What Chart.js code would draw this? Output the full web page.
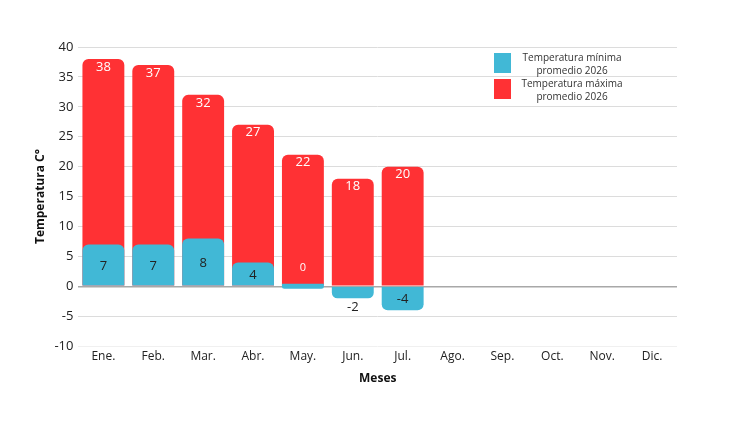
<!DOCTYPE html>
<html>
<head>
<meta charset="utf-8">
<script src="https://cdn.jsdelivr.net/npm/chart.js@4/dist/chart.umd.min.js"></script>
<style>
  html, body { margin: 0; padding: 0; background: #fff; }
  #wrap { width: 750px; height: 422px; }
</style>
</head>
<body>
<div id="wrap"><canvas id="chart"></canvas></div>
<script>
// Temperaturas promedio 2026 por mes (mínima delante, máxima detrás).
const months   = ["Ene.", "Feb.", "Mar.", "Abr.", "May.", "Jun.", "Jul.", "Ago.", "Sep.", "Oct.", "Nov.", "Dic."];
const minTemps = [7, 7, 8, 4, 0, -2, -4, null, null, null, null, null];
const maxTemps = [38, 37, 32, 27, 22, 18, 20, null, null, null, null, null];
const minLabel = ["Temperatura mínima", "promedio 2026"];
const maxLabel = ["Temperatura máxima", "promedio 2026"];

const BLUE = "#41b8d6";
const RED  = "#ff3134";
const FONT = "'Open Sans', sans-serif";

// value labels drawn on each bar
const barLabels = {
  id: "barLabels",
  afterDatasetsDraw(chart) {
    const ctx = chart.ctx;
    ctx.save();
    ctx.textAlign = "center";
    ctx.textBaseline = "middle";
    chart.data.datasets.forEach((ds, di) => {
      const meta = chart.getDatasetMeta(di);
      meta.data.forEach((bar, i) => {
        const v = ds.data[i];
        if (v === null || v === undefined) return;
        const p = bar.getProps(["x", "y", "base"], true);
        const h = Math.abs(p.base - p.y);
        if (di === 1) {
          ctx.font = "13px " + FONT;
          ctx.fillStyle = "#fff";
          ctx.fillText(String(v), p.x, Math.min(p.y, p.base) + 8);
          return;
        }
        if (h >= 16) {
          ctx.font = "13px " + FONT;
          ctx.fillStyle = "#222";
          ctx.fillText(String(v), p.x, (p.y + p.base) / 2 + 1);
        } else if (v >= 0) {
          ctx.font = "11px " + FONT;
          ctx.fillStyle = "#fff";
          ctx.fillText(String(v), p.x, p.base - 16);
        } else {
          ctx.font = "13px " + FONT;
          ctx.fillStyle = "#222";
          ctx.fillText(String(v), p.x, Math.max(p.y, p.base) + 9);
        }
      });
    });
    ctx.restore();
  }
};

// legend drawn over the top right of the plot area
const boxLegend = {
  id: "boxLegend",
  afterDraw(chart) {
    const ctx = chart.ctx;
    const area = chart.chartArea;
    const items = [[BLUE, minLabel], [RED, maxLabel]];
    ctx.save();
    ctx.font = "10px " + FONT;
    ctx.textAlign = "center";
    ctx.textBaseline = "middle";
    items.forEach((it, k) => {
      const top = area.top + 6 + k * 26;
      ctx.fillStyle = it[0];
      ctx.fillRect(area.right - 183, top, 17, 20);
      ctx.fillStyle = "#333";
      it[1].forEach((line, j) => {
        ctx.fillText(line, area.right - 105, top + 5 + j * 13);
      });
    });
    ctx.restore();
  }
};

new Chart(document.getElementById("chart"), {
  type: "bar",
  data: {
    labels: months,
    datasets: [
      {
        label: minLabel.join(" "),
        data: minTemps,
        backgroundColor: BLUE,
        borderRadius: 6,
        borderSkipped: "start",
        minBarLength: 5,
        grouped: false,
        barPercentage: 0.84,
        categoryPercentage: 1.0,
      },
      {
        label: maxLabel.join(" "),
        data: maxTemps,
        backgroundColor: RED,
        borderRadius: 6,
        borderSkipped: "start",
        grouped: false,
        barPercentage: 0.84,
        categoryPercentage: 1.0,
      },
    ],
  },
  options: {
    responsive: true,
    maintainAspectRatio: false,
    animation: false,
    layout: { padding: { top: 47, right: 73, bottom: 36, left: 33 } },
    plugins: {
      legend: { display: false },
      tooltip: { enabled: false },
    },
    scales: {
      x: {
        grid: { display: false, drawTicks: false },
        border: { display: false },
        ticks: { color: "#222", font: { family: FONT, size: 12 }, padding: 3 },
        title: {
          display: true, text: "Meses", color: "#111",
          font: { family: FONT, size: 12, weight: "bold" }, padding: { top: 5, bottom: 0 },
        },
      },
      y: {
        min: -10,
        max: 40,
        ticks: { stepSize: 5, color: "#222", font: { family: FONT, size: 13 }, padding: 5 },
        border: { display: false },
        grid: {
          drawTicks: false,
          color: ctx => ctx.tick.value === 0 ? "#a8a8a8" : (ctx.tick.value === -10 ? "#f0f0f0" : "#dcdcdc"),
          lineWidth: ctx => ctx.tick.value === 0 ? 1.5 : 1,
        },
        title: {
          display: true, text: "Temperatura C°", color: "#111",
          font: { family: FONT, size: 12, weight: "bold" }, padding: { top: 0, bottom: 2 },
        },
      },
    },
  },
  plugins: [barLabels, boxLegend],
});
</script>
</body>
</html>
